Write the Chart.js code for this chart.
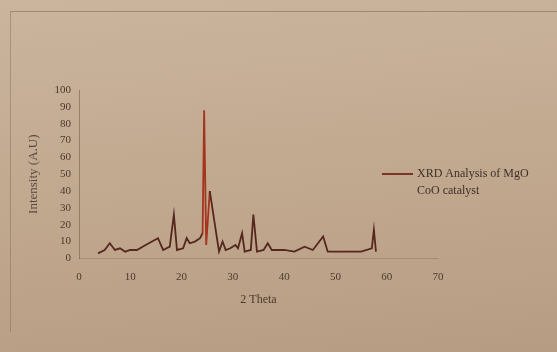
<!DOCTYPE html>
<html>
<head>
<meta charset="utf-8">
<script src="https://cdn.jsdelivr.net/npm/chart.js@4"></script>
<style>
  html, body { margin: 0; padding: 0; }
  body {
    width: 557px; height: 352px; overflow: hidden; position: relative;
    background: linear-gradient(175deg, #cbb59d 0%, #c2aa91 45%, #b69c83 100%);
  }
  #frame {
    position: absolute; left: 10px; top: 11px; width: 560px; height: 320px;
    border-top: 1px solid rgba(110, 85, 65, 0.45);
    border-left: 1px solid rgba(110, 85, 65, 0.35);
  }
  canvas { position: absolute; left: 0; top: 0; }
</style>
</head>
<body>
<div id="frame"></div>
<canvas id="xrdChart" width="557" height="352"></canvas>
<script>
// 2 theta positions and intensities
const twoTheta = [3.7, 5, 6, 7, 8, 9, 10, 11.3, 13, 15.4, 16.4, 17.7, 18.5, 19.1, 20.3, 21, 21.6,
  22.6, 23.6, 24.1, 24.4, 24.8, 25.5, 27.3, 28, 28.6, 29.5, 30.5, 31, 31.8, 32.3, 33.5, 34,
  34.7, 36, 36.8, 37.6, 40, 42, 44, 45.6, 47.6, 48.5, 52, 55, 57.1, 57.5, 57.9];
const intensity = [3, 5, 9, 5, 6, 4, 5, 5, 8, 12, 5, 7, 26, 5, 6, 12, 9,
  10, 12, 15, 88, 8, 40, 4, 10, 5, 6, 8, 6, 15, 4, 5, 26,
  4, 5, 9, 5, 5, 4, 7, 5, 13, 4, 4, 4, 6, 17, 4];
const seriesLabel = ['XRD Analysis of MgO', 'CoO catalyst'];
const xTicks = [0, 10, 20, 30, 40, 50, 60, 70];
const yTicks = [0, 10, 20, 30, 40, 50, 60, 70, 80, 90, 100];

const lineColor = '#55271e';
const peakColor = '#a5341f';
const textColor = '#4a3a2e';
const serif = "'Liberation Serif', 'DejaVu Serif', serif";

// Draw the legend off to the right of the plot
const sideLegend = {
    id: 'sideLegend',
    afterDraw(chart) {
        const ctx = chart.ctx;
        ctx.save();
        ctx.strokeStyle = '#7a3426';
        ctx.lineWidth = 2;
        ctx.beginPath();
        ctx.moveTo(382, 174);
        ctx.lineTo(413, 174);
        ctx.stroke();
        ctx.fillStyle = '#3e3028';
        ctx.font = '12px ' + serif;
        ctx.textBaseline = 'middle';
        ctx.fillText(seriesLabel[0], 417, 174);
        ctx.fillText(seriesLabel[1], 417, 191);
        ctx.restore();
    }
};

const points = twoTheta.map((x, i) => ({ x: x, y: intensity[i] }));

new Chart(document.getElementById('xrdChart').getContext('2d'), {
    type: 'scatter',
    data: {
        datasets: [{
            label: seriesLabel.join(' '),
            data: points,
            showLine: true,
            borderColor: lineColor,
            borderWidth: 1.8,
            pointRadius: 0,
            tension: 0,
            segment: {
                borderColor: c => (c.p0.parsed.x >= 24.1 && c.p1.parsed.x <= 25.5) ? peakColor : lineColor
            }
        }]
    },
    options: {
        responsive: false,
        animation: false,
        layout: { padding: { left: 24, right: 119, top: 90, bottom: 41 } },
        plugins: { legend: { display: false }, tooltip: { enabled: false } },
        scales: {
            x: {
                type: 'linear',
                min: 0, max: 70,
                afterBuildTicks: s => { s.ticks = xTicks.map(v => ({ value: v })); },
                grid: { display: false, drawTicks: false },
                border: { display: true, color: 'rgba(120, 100, 80, 0.35)', width: 1 },
                ticks: { padding: 12, color: textColor, font: { family: serif, size: 11 } },
                title: {
                    display: true, text: '2 Theta', color: textColor,
                    font: { family: serif, size: 12 }, padding: { top: -3, bottom: 4 }
                }
            },
            y: {
                min: 0, max: 100,
                afterBuildTicks: s => { s.ticks = yTicks.map(v => ({ value: v })); },
                afterFit: s => { s.width = 55; },
                grid: { display: false, drawTicks: false },
                border: { display: true, color: 'rgba(110, 90, 70, 0.55)', width: 1 },
                ticks: { padding: 8, color: textColor, font: { family: serif, size: 11 } },
                title: {
                    display: true, text: 'Intensity (A.U)', color: '#5a4a3e',
                    font: { family: serif, size: 13 }, padding: { top: 2, bottom: 4 }
                }
            }
        }
    },
    plugins: [sideLegend]
});
</script>
</body>
</html>
